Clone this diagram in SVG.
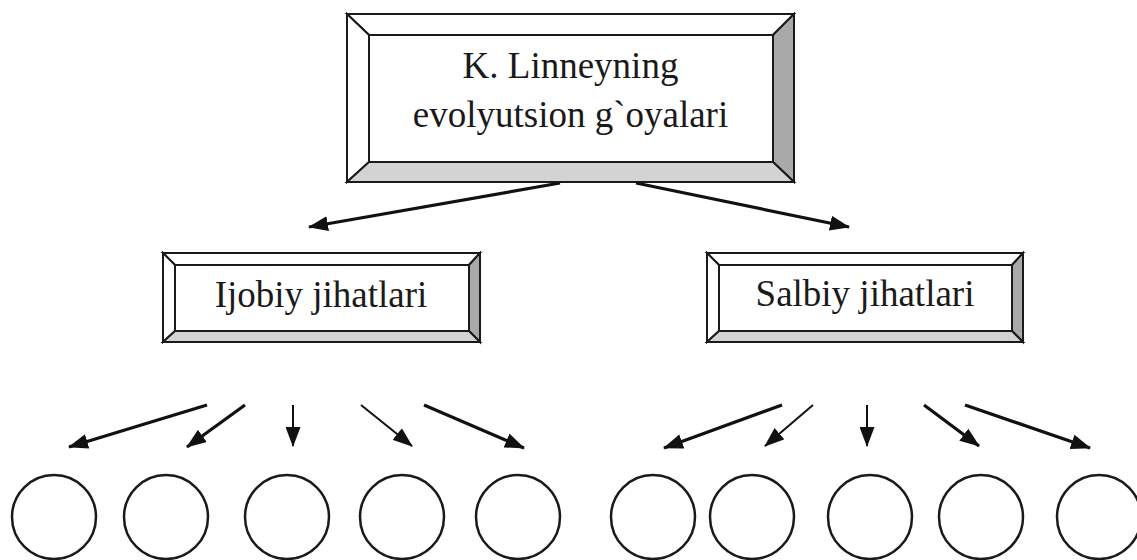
<svg xmlns="http://www.w3.org/2000/svg" width="1137" height="560" viewBox="0 0 1137 560">
<style>
.edge{stroke:#1a1a1a;stroke-width:2;stroke-linejoin:miter}
.lt{fill:#ffffff}
.rt{fill:#a9a9a9}
.bt{fill:#d3d3d3}
.txt{font-size:37px;fill:#1a1a1a;text-anchor:middle}
.con{stroke:#111;fill:none}
.thick{stroke-width:3.2}
.thin{stroke-width:2}
.circ{fill:#fff;stroke:#1a1a1a;stroke-width:2.5}
</style>
<defs>
<marker id="ah" viewBox="0 0 20 15" refX="19" refY="7.5" markerWidth="20" markerHeight="15" markerUnits="userSpaceOnUse" orient="auto">
<path d="M0,0 L20,7.5 L0,15 Z" fill="#111"/>
</marker>
</defs>
<rect width="1137" height="560" fill="#fff"/>

<g id="top">
<polygon class="lt edge" points="347,14 794,14 773,35 369,35"/>
<polygon class="lt edge" points="347,14 369,35 369,162 347,182"/>
<polygon class="rt edge" points="794,14 794,182 773,162 773,35"/>
<polygon class="bt edge" points="347,182 794,182 773,162 369,162"/>
<rect class="edge" x="369" y="35" width="404" height="127" fill="#fff"/>
<text class="txt" font-family="Liberation Serif, Tinos, Times New Roman, serif" x="570.5" y="78">K. Linneyning</text>
<text class="txt" font-family="Liberation Serif, Tinos, Times New Roman, serif" x="570.5" y="127">evolyutsion g`oyalari</text>
</g>

<g id="ijobiy">
<polygon class="lt edge" points="163,253 480,253 469,265 175,265"/>
<polygon class="lt edge" points="163,253 175,265 175,331 163,342"/>
<polygon class="rt edge" points="480,253 480,342 469,331 469,265"/>
<polygon class="bt edge" points="163,342 480,342 469,331 175,331"/>
<rect class="edge" x="175" y="265" width="294" height="66" fill="#fff"/>
<text class="txt" font-family="Liberation Serif, Tinos, Times New Roman, serif" x="321" y="307">Ijobiy jihatlari</text>
</g>

<g id="salbiy">
<polygon class="lt edge" points="707,253 1023,253 1012,265 719,265"/>
<polygon class="lt edge" points="707,253 719,265 719,331 707,342"/>
<polygon class="rt edge" points="1023,253 1023,342 1012,331 1012,265"/>
<polygon class="bt edge" points="707,342 1023,342 1012,331 719,331"/>
<rect class="edge" x="719" y="265" width="293" height="66" fill="#fff"/>
<text class="txt" font-family="Liberation Serif, Tinos, Times New Roman, serif" x="865" y="306">Salbiy jihatlari</text>
</g>

<g id="circles">
<circle id="c1" class="circ" cx="54" cy="517" r="42"/>
<circle id="c2" class="circ" cx="166" cy="517" r="42"/>
<circle id="c3" class="circ" cx="287" cy="517" r="42"/>
<circle id="c4" class="circ" cx="402" cy="517" r="42"/>
<circle id="c5" class="circ" cx="518" cy="517" r="42"/>
<circle id="c6" class="circ" cx="653" cy="517" r="42"/>
<circle id="c7" class="circ" cx="752" cy="517" r="42"/>
<circle id="c8" class="circ" cx="870" cy="517" r="42"/>
<circle id="c9" class="circ" cx="981" cy="517" r="42"/>
<circle id="c10" class="circ" cx="1099" cy="517" r="42"/>
</g>

<g id="connectors">
<line class="con thick" x1="560" y1="183" x2="309" y2="227" marker-end="url(#ah)"/>
<line class="con thick" x1="636" y1="183" x2="849" y2="227" marker-end="url(#ah)"/>

<line class="con thick" x1="207" y1="405" x2="69" y2="447" marker-end="url(#ah)"/>
<line class="con thick" x1="245" y1="405" x2="187" y2="447" marker-end="url(#ah)"/>
<line class="con thin" x1="293" y1="405" x2="293" y2="446" marker-end="url(#ah)"/>
<line class="con thin" x1="361" y1="405" x2="412" y2="446" marker-end="url(#ah)"/>
<line class="con thick" x1="424" y1="405" x2="524" y2="448" marker-end="url(#ah)"/>

<line class="con thick" x1="782" y1="405" x2="664" y2="448" marker-end="url(#ah)"/>
<line class="con thin" x1="813" y1="405" x2="765" y2="446" marker-end="url(#ah)"/>
<line class="con thin" x1="867" y1="405" x2="867" y2="446" marker-end="url(#ah)"/>
<line class="con thick" x1="924" y1="405" x2="979" y2="446" marker-end="url(#ah)"/>
<line class="con thick" x1="965" y1="405" x2="1090" y2="448" marker-end="url(#ah)"/>
</g>
</svg>
